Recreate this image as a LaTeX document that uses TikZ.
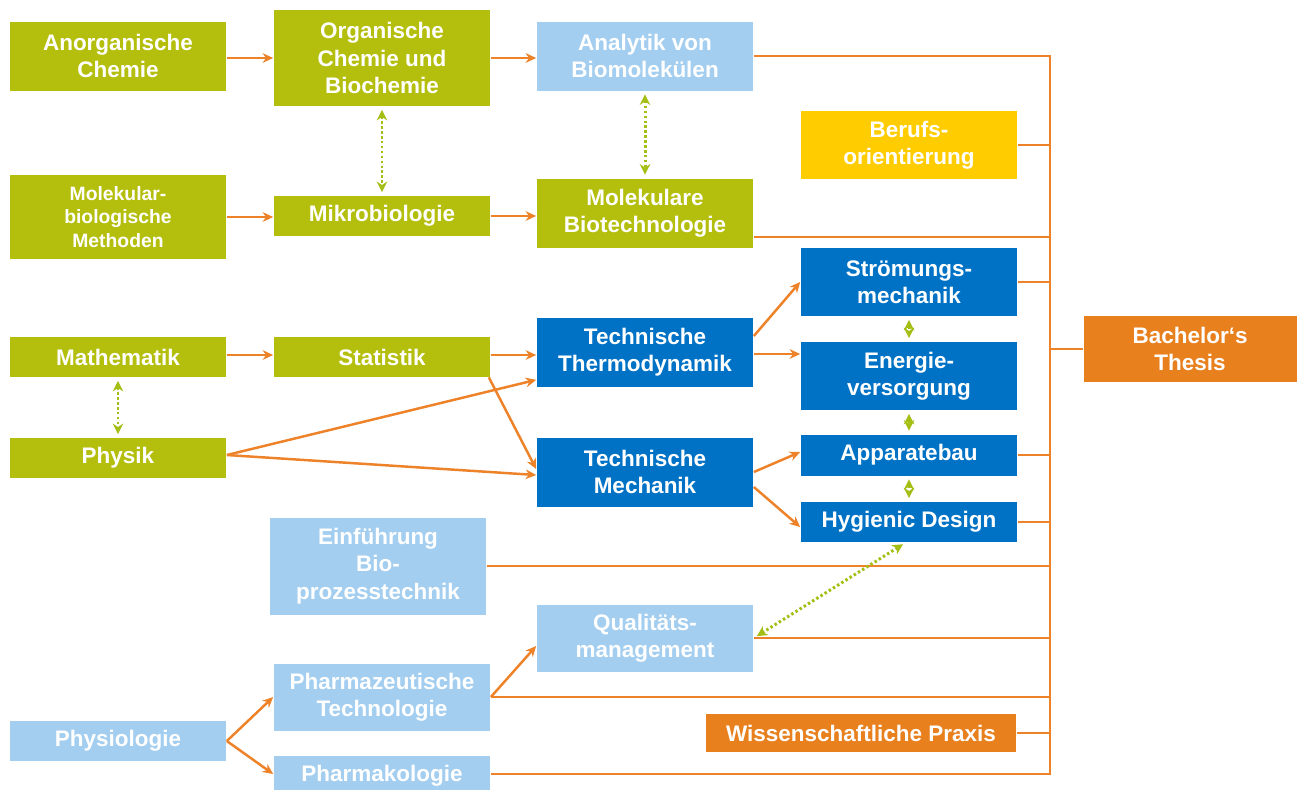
\documentclass[tikz,border=0pt]{standalone}
\usepackage{fontspec}
\setmainfont{Liberation Sans}
\usetikzlibrary{arrows.meta,calc}
\definecolor{olive}{RGB}{180,190,12}
\definecolor{lblue}{RGB}{163,206,240}
\definecolor{dblue}{RGB}{0,114,198}
\definecolor{yell}{RGB}{255,204,0}
\definecolor{orbox}{RGB}{232,128,30}
\definecolor{orline}{RGB}{237,130,40}
\definecolor{dotgreen}{RGB}{165,190,20}
\begin{document}
\begin{tikzpicture}[x=0.02cm,y=-0.02cm,
  box/.style={rectangle, inner sep=0pt, text=white, align=center,
    font=\bfseries\fontsize{12.8}{15.6}\selectfont, minimum width=4.34cm},
  gbox/.style={box, fill=olive},
  lbbox/.style={box, fill=lblue},
  dbbox/.style={box, fill=dblue},
  flow/.style={draw=orline, line width=1.4pt, -{Stealth[length=6pt,width=5.5pt]}},
  busline/.style={draw=orline, line width=1.4pt},
  rel/.style={draw=dotgreen, line width=1.7pt, dash pattern=on 1.4pt off 1.4pt,
    {Stealth[length=6pt,width=6pt]}-{Stealth[length=6pt,width=6pt]}, shorten <=2pt, shorten >=2pt}
]
\useasboundingbox (0,0) rectangle (1297,789);
\fill[white] (0,0) rectangle (1297,789);

% column 1
\node[gbox, minimum height=1.38cm] (anorg) at (118,56) {Anorganische\\Chemie};
\node[gbox, minimum height=1.68cm, font=\bfseries\fontsize{11}{13.3}\selectfont] (molbio) at (118,217) {Molekular-\\biologische\\Methoden};
\node[gbox, minimum height=0.8cm] (math) at (118,357) {Mathematik};
\node[gbox, minimum height=0.8cm] (phys) at (118,458) {Physik};
\node[lbbox, minimum height=0.8cm] (physio) at (118,741) {Physiologie};

% column 2
\node[gbox, minimum height=1.92cm] (org) at (382,58) {Organische\\Chemie und\\Biochemie};
\node[gbox, minimum height=0.8cm] (mikro) at (382,216) {Mikrobiologie};
\node[gbox, minimum height=0.8cm] (stat) at (382,357) {Statistik};
\node[lbbox, minimum height=1.94cm] (einf) at (378,566) {Einführung\\Bio-\\prozesstechnik};
\node[lbbox, minimum height=1.34cm] (pharmtech) at (382,697) {Pharmazeutische\\Technologie};
\node[lbbox, minimum height=0.8cm] (pharmak) at (382,776) {Pharmakologie};

% column 3
\node[lbbox, minimum height=1.38cm] (analyt) at (645,56) {Analytik von\\Biomolekülen};
\node[gbox, minimum height=1.38cm] (molbt) at (645,213) {Molekulare\\Biotechnologie};
\node[dbbox, minimum height=1.38cm] (thermo) at (645,352) {Technische\\Thermodynamik};
\node[dbbox, minimum height=1.38cm] (mech) at (645,472) {Technische\\Mechanik};
\node[lbbox, minimum height=1.34cm] (qual) at (645,638) {Qualitäts-\\management};

% column 4
\node[box, fill=yell, minimum height=1.36cm] (beruf) at (909,145) {Berufs-\\orientierung};
\node[dbbox, minimum height=1.36cm] (stroem) at (909,282) {Strömungs-\\mechanik};
\node[dbbox, minimum height=1.36cm] (energie) at (909,376) {Energie-\\versorgung};
\node[dbbox, minimum height=0.82cm] (app) at (909,455) {Apparatebau};
\node[dbbox, minimum height=0.8cm] (hyg) at (909,522) {Hygienic Design};
\node[box, fill=orbox, minimum width=6.22cm, minimum height=0.76cm] (wiss) at (861,733) {Wissenschaftliche Praxis};

% thesis
\node[box, fill=orbox, minimum width=4.26cm, minimum height=1.32cm] (thesis) at (1190,349) {Bachelor‘s\\Thesis};

% helper coordinates
\coordinate (bt) at (1050,58);
\coordinate (bb) at (1050,774);
\coordinate (mbtout) at ($(molbt.south east)+(0,-11)$);
\coordinate (anout) at ($(anorg.east)+(0,2)$);
\coordinate (maout) at ($(math.east)+(0,-2)$);
\coordinate (stout) at ($(stat.east)+(0,-2)$);
\coordinate (thout) at ($(thermo.east)+(0,2)$);

% bus
\draw[busline] (analyt.east) -- (analyt.east -| bt) -- (bb) -- (bb -| pharmak.east);
\draw[busline] (beruf.east) -- (beruf.east -| bt);
\draw[busline] (mbtout) -- (mbtout -| bt);
\draw[busline] (stroem.east) -- (stroem.east -| bt);
\draw[busline] (thesis.west) -- (thesis.west -| bt);
\draw[busline] (app.east) -- (app.east -| bt);
\draw[busline] (hyg.east) -- (hyg.east -| bt);
\draw[busline] (einf.east) -- (einf.east -| bt);
\draw[busline] (qual.east) -- (qual.east -| bt);
\draw[busline] (pharmtech.east) -- (pharmtech.east -| bt);
\draw[busline] (wiss.east) -- (wiss.east -| bt);

% flows
\draw[flow] (anout) -- (anout -| org.west);
\draw[flow] (org.east) -- (org.east -| analyt.west);
\draw[flow] (molbio.east) -- (molbio.east -| mikro.west);
\draw[flow] (mikro.east) -- (mikro.east -| molbt.west);
\draw[flow] (maout) -- (maout -| stat.west);
\draw[flow] (stout) -- (stout -| thermo.west);
\draw[flow] ($(phys.east)+(0,-3)$) -- ($(thermo.south west)+(0,-7)$);
\draw[flow] ($(phys.east)+(0,-3)$) -- ($(mech.west)+(0,3)$);
\draw[flow] ($(stat.south east)+(-2,0)$) -- ($(mech.west)+(0,-3)$);
\draw[flow] ($(thermo.east)+(0,-16)$) -- (stroem.west);
\draw[flow] (thout) -- (thout -| energie.west);
\draw[flow] (mech.east) -- ($(app.west)+(0,-3)$);
\draw[flow] ($(mech.east)+(0,15)$) -- ($(hyg.west)+(0,5)$);
\draw[flow] (physio.east) -- (pharmtech.west);
\draw[flow] (physio.east) -- ($(pharmak.west)+(0,-2)$);
\draw[flow] (pharmtech.east) -- ($(qual.west)+(0,8)$);

% relations
\draw[rel] (org.south) -- (mikro.north);
\draw[rel] (analyt.south) -- (molbt.north);
\draw[rel] (math.south) -- (phys.north);
\draw[rel] (stroem.south) -- (energie.north);
\draw[rel] (energie.south) -- (app.north);
\draw[rel] (app.south) -- (hyg.north);
\draw[rel] ($(hyg.south)+(-3,0)$) -- (qual.east);
\end{tikzpicture}
\end{document}
